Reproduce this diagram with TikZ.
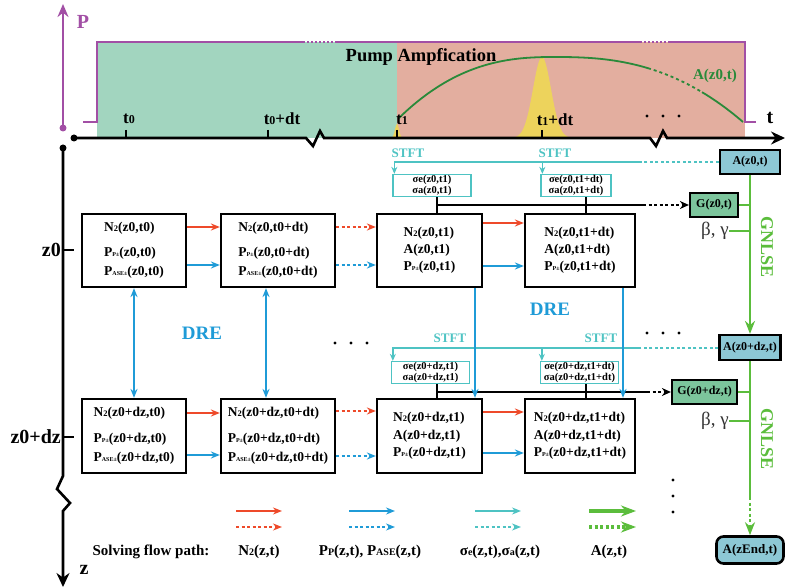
\documentclass[tikz,border=0pt]{standalone}
\usepackage{fontspec}
\setmainfont{Liberation Serif}
\usetikzlibrary{arrows.meta,calc}
\definecolor{cred}{HTML}{EE4A2A}
\definecolor{cblue}{HTML}{1F9BD7}
\definecolor{cteal}{HTML}{4EC3C3}
\definecolor{cgreen}{HTML}{5BBD3C}
\definecolor{cdgreen}{HTML}{2A8A3A}
\definecolor{cmag}{HTML}{A24FA5}
\definecolor{fgreen}{HTML}{A2D5BF}
\definecolor{fpink}{HTML}{E3AE9F}
\definecolor{fyel}{HTML}{EDD35C}
\definecolor{fablue}{HTML}{8DC8D5}
\definecolor{fgbox}{HTML}{7CC59C}
\newcommand\sbA[1]{{\fontsize{8.5}{8.5}\selectfont #1}}
\newcommand\sbB[1]{{\fontsize{6}{6}\selectfont #1}}
\newcommand\sbL[1]{{\fontsize{10}{10}\selectfont #1}}
\newcommand\sbT[1]{{\fontsize{12}{12}\selectfont #1}}
\begin{document}
\begin{tikzpicture}[x=1pt,y=-1pt,
  bx/.style={draw, line width=2.2pt, fill=white, inner sep=0pt, align=left, minimum height=73pt, font=\bfseries\fontsize{13.5}{17}\selectfont},
  sg/.style={draw=cteal, line width=1.3pt, fill=white, inner sep=0pt, align=center, minimum height=22pt, font=\bfseries\fontsize{10.5}{11}\selectfont},
  ab/.style={draw, line width=2.2pt, fill=fablue, inner sep=0pt, minimum height=24pt, minimum width=60pt, font=\bfseries\fontsize{12}{12}\selectfont},
  gb/.style={draw, line width=2.2pt, fill=fgbox, inner sep=0pt, minimum height=24pt, font=\bfseries\fontsize{12}{12}\selectfont},
  dts/.style={dash pattern=on 3pt off 2.5pt},
  arrtip/.style={-{Stealth[length=9pt,width=7pt]}},
  rl/.style={draw=cred, line width=1.8pt, arrtip},
  bl/.style={draw=cblue, line width=1.8pt, arrtip},
  tl/.style={draw=cteal, line width=1.5pt},
  kl/.style={draw=black, line width=1.8pt},
  gl/.style={draw=cgreen, line width=2.8pt},
  lbl/.style={font=\bfseries\fontsize{15}{15}\selectfont, inner sep=0pt},
  axl/.style={font=\bfseries\fontsize{20}{20}\selectfont, inner sep=0pt},
  tlab/.style={font=\bfseries\fontsize{17}{17}\selectfont, inner sep=0pt},
  bglab/.style={anchor=east, inner sep=0pt, font=\fontsize{19}{19}\selectfont, text=black!80},
]
\useasboundingbox (0,0) rectangle (785,588);

% ---------- top plot ----------
\fill[fgreen] (97,42) rectangle (397,138);
\fill[fpink] (397,42) rectangle (745,138);
\fill[fyel] plot[domain=506:578,samples=80] (\x,{138-81*exp(-((\x-542)^2)/162)}) -- cycle;
\fill[fyel] plot[domain=391:403,samples=20] (\x,{138-14*exp(-((\x-397)^2)/8)}) -- cycle;
\draw[cdgreen,line width=1.8pt] plot[domain=399:555,samples=60] (\x,{57+61*pow(abs(555-\x)/156+0.0001,2.5)});
\draw[cdgreen,line width=1.8pt] plot[domain=555:648,samples=40] (\x,{57+65*pow(abs(\x-555)/188+0.0001,2.5)});
\draw[cdgreen,line width=1.8pt,dash pattern=on 3pt off 3pt] plot[domain=648:702,samples=30] (\x,{57+65*pow(abs(\x-555)/188+0.0001,2.5)});
\draw[cdgreen,line width=1.8pt] plot[domain=702:743,samples=30] (\x,{57+65*pow(abs(\x-555)/188+0.0001,2.5)});

\draw[cmag,line width=2.2pt] (83,122) -- (97,122) -- (97,42) -- (303,42);
\draw[cmag,line width=2.2pt,dash pattern=on 2pt off 2pt] (303,42) -- (335,42);
\draw[cmag,line width=2.2pt] (335,42) -- (640,42);
\draw[cmag,line width=2.2pt,dash pattern=on 2pt off 2pt] (640,42) -- (670,42);
\draw[cmag,line width=2.2pt] (670,42) -- (745,42) -- (745,122) -- (756,122);

\node[font=\bfseries\fontsize{18.5}{18.5}\selectfont, inner sep=0pt] (pump) at (421,57) {Pump Ampfication};
\node[font=\bfseries\fontsize{15}{15}\selectfont, text=cdgreen, inner sep=0pt] (alab) at (715,76) {A(z0,t)};

% axes
\coordinate (pdot) at (63,128);
\coordinate (ptop) at (63,4);
\fill[cmag] (pdot) circle (3.5pt);
\draw[cmag,line width=2.5pt,-{Stealth[length=13pt,width=11pt]}] (pdot) -- (ptop);
\node[axl, text=cmag] (plab) at (83,22) {P};

\coordinate (tdot) at (74,138);
\coordinate (tend) at (785,138);
\fill (tdot) circle (3.5pt);
\draw[line width=2.6pt,-{Stealth[length=14pt,width=13pt]}] (tdot) -- (306,138) -- (313,146) -- (320,131) -- (324,138) -- (650,138) -- (656,146) -- (663,131) -- (667,138) -- (tend);
\node[axl] (tlb) at (770,118) {t};
\foreach \x in {126,268,397,542} \draw[line width=1.5pt] (\x,130) -- (\x,138);
\node[tlab] (lt0) at (129,119) {t\sbT{0}};
\node[tlab] (lt0d) at (282,119) {t\sbT{0}+dt};
\node[tlab] (lt1) at (402,120) {t\sbT{1}};
\node[tlab] (lt1d) at (555,120) {t\sbT{1}+dt};
\foreach \x in {647,663,679} \fill (\x,116) circle (1.6pt);

\coordinate (zdot) at (63,148);
\coordinate (zend) at (63,587);
\fill (zdot) circle (3.5pt);
\draw[line width=2.6pt,-{Stealth[length=14pt,width=13pt]}] (zdot) -- (63,476) -- (57,489) -- (70,503) -- (63,511) -- (zend);
\node[axl] (zlb) at (84,570) {z};
\draw[line width=2pt] (63,250) -- (74,250);
\draw[line width=2pt] (63,437) -- (74,437);
\node[axl, anchor=east] (z0l) at (61,250) {z0};
\node[axl, anchor=east] (z1l) at (61,437) {z0+dz};

% ---------- boxes ----------
\node[bx, minimum width=104pt] (b11) at (134,250.5) {N\sbA{2}(z0,t0)\\[8pt]P\sbB{P±}(z0,t0)\\[2pt]P\sbB{ASE±}(z0,t0)};
\node[bx, minimum width=114pt] (b12) at (278,250.5) {N\sbA{2}(z0,t0+dt)\\[8pt]P\sbB{P±}(z0,t0+dt)\\[2pt]P\sbB{ASE±}(z0,t0+dt)};
\node[bx, minimum width=105pt] (b13) at (429.5,250.5) {N\sbA{2}(z0,t1)\\A(z0,t1)\\P\sbB{P±}(z0,t1)};
\node[bx, minimum width=110pt] (b14) at (580,250.5) {N\sbA{2}(z0,t1+dt)\\A(z0,t1+dt)\\P\sbB{P±}(z0,t1+dt)};

\node[bx, minimum width=104pt, minimum height=74pt] (b21) at (134,436) {N\sbA{2}(z0+dz,t0)\\[9pt]P\sbB{P±}(z0+dz,t0)\\[2pt]P\sbB{ASE±}(z0+dz,t0)};
\node[bx, minimum width=114pt, minimum height=74pt] (b22) at (278,436) {N\sbA{2}(z0+dz,t0+dt)\\[9pt]P\sbB{P±}(z0+dz,t0+dt)\\[2pt]P\sbB{ASE±}(z0+dz,t0+dt)};
\node[bx, minimum width=105pt, minimum height=74pt] (b23) at (429.5,436) {N\sbA{2}(z0+dz,t1)\\[1pt]A(z0+dz,t1)\\P\sbB{P±}(z0+dz,t1)};
\node[bx, minimum width=110pt, minimum height=74pt] (b24) at (580,436) {N\sbA{2}(z0+dz,t1+dt)\\[1pt]A(z0+dz,t1+dt)\\P\sbB{P±}(z0+dz,t1+dt)};

\node[sg, minimum width=78pt] (s13) at (432,185.5) {σe(z0,t1)\\σa(z0,t1)};
\node[sg, minimum width=70pt] (s14) at (576,185.5) {σe(z0,t1+dt)\\σa(z0,t1+dt)};
\node[sg, minimum width=78pt] (s23) at (430.5,372.5) {σe(z0+dz,t1)\\σa(z0+dz,t1)};
\node[sg, minimum width=78pt] (s24) at (579.5,372.5) {σe(z0+dz,t1+dt)\\σa(z0+dz,t1+dt)};

\node[ab] (a1) at (750,162) {A(z0,t)};
\node[ab, minimum width=61pt, minimum height=25pt] (a2) at (750,347.5) {A(z0+dz,t)};
\node[ab, rounded corners=7pt, line width=2.6pt, minimum width=67pt, minimum height=27pt, font=\bfseries\fontsize{13}{13}\selectfont] (aend) at (750,550) {A(zEnd,t)};
\node[gb, minimum width=48pt] (g1) at (714,205) {G(z0,t)};
\node[gb, minimum width=65pt] (g2) at (704.5,392) {G(z0+dz,t)};

\node[bglab] (bg1) at (729,231) {β, γ};
\node[bglab] (bg2) at (729,421) {β, γ};

\node[rotate=-90, text=cgreen, font=\bfseries\fontsize{18}{18}\selectfont, inner sep=0pt] (gn1) at (767,247) {GNLSE};
\node[rotate=-90, text=cgreen, font=\bfseries\fontsize{18}{18}\selectfont, inner sep=0pt] (gn2) at (767,439) {GNLSE};

\node[text=cteal, font=\bfseries\fontsize{13}{13}\selectfont, inner sep=0pt] (stl1) at (408,153) {STFT};
\node[text=cteal, font=\bfseries\fontsize{13}{13}\selectfont, inner sep=0pt] (stl2) at (555,153) {STFT};
\node[text=cteal, font=\bfseries\fontsize{13}{13}\selectfont, inner sep=0pt] (stl3) at (450,338) {STFT};
\node[text=cteal, font=\bfseries\fontsize{13}{13}\selectfont, inner sep=0pt] (stl4) at (601,338) {STFT};

\node[text=cblue, font=\bfseries\fontsize{19}{19}\selectfont, inner sep=0pt] (dre1) at (202,333) {DRE};
\node[text=cblue, font=\bfseries\fontsize{19}{19}\selectfont, inner sep=0pt] (dre2) at (550,309) {DRE};

\foreach \x in {335,351,367} \fill (\x,343) circle (1.6pt);
\foreach \x in {647,663,679} \fill (\x,333) circle (1.6pt);
\foreach \y in {480,496,512} \fill (673,\y) circle (1.6pt);

% ---------- connectors row z0 ----------
\draw[rl] (b11.east |- 0,227) -- (b12.west |- 0,227);
\draw[bl] (b11.east |- 0,265) -- (b12.west |- 0,265);
\draw[rl,dts] (b12.east |- 0,227) -- (b13.west |- 0,227);
\draw[bl,dts] (b12.east |- 0,265) -- (b13.west |- 0,265);
\draw[rl] (b13.east |- 0,223) -- (b14.west |- 0,223);
\draw[bl] (b13.east |- 0,266) -- (b14.west |- 0,266);

% row z0+dz
\draw[rl] (b21.east |- 0,413) -- (b22.west |- 0,413);
\draw[bl] (b21.east |- 0,455) -- (b22.west |- 0,455);
\draw[rl,dts] (b22.east |- 0,411) -- (b23.west |- 0,411);
\draw[bl,dts] (b22.east |- 0,456) -- (b23.west |- 0,456);
\draw[rl] (b23.east |- 0,412) -- (b24.west |- 0,412);
\draw[bl] (b23.east |- 0,453) -- (b24.west |- 0,453);

% STFT lines
\coordinate (st1) at (640,162);
\coordinate (k13) at ($(s13.north west)+(2,0)$);
\coordinate (k14) at ($(s14.north west)+(2,0)$);
\draw[tl,dts] (a1.west) -- (st1);
\draw[tl,-{Stealth[length=7pt,width=6pt]}] (st1) -| (k13);
\draw[tl,-{Stealth[length=7pt,width=6pt]}] (k14 |- st1) -- (k14);
\coordinate (st2) at (640,348);
\coordinate (k23) at ($(s23.north west)+(2,0)$);
\coordinate (k24) at ($(s24.north west)+(2,0)$);
\draw[tl,dts] (a2.west |- st2) -- (st2);
\draw[tl,-{Stealth[length=7pt,width=6pt]}] (st2) -| (k23);
\draw[tl,-{Stealth[length=7pt,width=6pt]}] (k24 |- st2) -- (k24);

% black gain lines
\coordinate (h1a) at (437,205);
\coordinate (h1b) at (643,205);
\draw[kl] (s13.south -| h1a) -- (b13.north -| h1a);
\draw[kl] (s14.south -| 586,0) -- (b14.north -| 586,0);
\draw[kl] (h1a) -- (h1b);
\draw[kl,dts,-{Stealth[length=9pt,width=8pt]}] (h1b) -- (g1.west);
\coordinate (h2a) at (437,392);
\coordinate (h2b) at (647,392);
\draw[kl] (s23.south -| h2a) -- (b23.north -| h2a);
\draw[kl] (s24.south -| 586,0) -- (b24.north -| 586,0);
\draw[kl] (h2a) -- (h2b);
\draw[kl,dts,-{Stealth[length=9pt,width=8pt]}] (h2b) -- (g2.west);

% DRE arrows
\draw[draw=cblue,line width=1.8pt,{Stealth[length=9pt,width=7pt]}-{Stealth[length=9pt,width=7pt]}] (b11.south) -- (b21.north);
\draw[draw=cblue,line width=1.8pt,{Stealth[length=9pt,width=7pt]}-{Stealth[length=9pt,width=7pt]}] (b12.south -| 266,0) -- (b22.north -| 266,0);
\draw[bl] (b13.south -| 475,0) -- (b23.north -| 475,0);
\draw[bl] (b14.south -| 623,0) -- (b24.north -| 623,0);

% GNLSE green
\draw[gl,-{Stealth[length=13pt,width=10pt]}] (a1.south) -- (a2.north);
\coordinate (gd) at (750,497);
\draw[gl] (a2.south) -- (gd);
\draw[gl,dash pattern=on 3pt off 2.5pt,-{Stealth[length=13pt,width=10pt]}] (gd) -- (aend.north);
\draw[gl] (g1.east) -- (g1.east -| a1.south);
\draw[gl] (bg1.east) -- (bg1.east -| a1.south);
\draw[gl] (g2.east) -- (g2.east -| a2.south);
\draw[gl] (bg2.east) -- (bg2.east -| a2.south);

% ---------- legend ----------
\foreach \nm/\xa/\cc in {r/236/cred, b/349/cblue, t/475/cteal} {
  \coordinate (L\nm1) at (\xa,511);
  \coordinate (L\nm2) at (\xa+46,511);
  \coordinate (L\nm3) at (\xa,527);
  \coordinate (L\nm4) at (\xa+46,527);
  \draw[draw=\cc, line width=1.8pt, arrtip] (L\nm1) -- (L\nm2);
  \draw[draw=\cc, line width=1.8pt, arrtip, dts] (L\nm3) -- (L\nm4);
}
\coordinate (Lg1) at (589,511);
\coordinate (Lg2) at (636,511);
\coordinate (Lg3) at (589,527);
\coordinate (Lg4) at (636,527);
\draw[draw=cgreen, line width=3.2pt, -{Stealth[length=15pt,width=11pt]}] (Lg1) -- (Lg2);
\draw[draw=cgreen, line width=3.2pt, dash pattern=on 3pt off 2.5pt, -{Stealth[length=15pt,width=11pt]}] (Lg3) -- (Lg4);

\node[lbl] (lg0) at (151,552) {Solving flow path:};
\node[lbl] (lg1) at (259,552) {N\sbL{2}(z,t)};
\node[lbl] (lg2) at (370,552) {P\sbL{P}(z,t), P\sbL{ASE}(z,t)};
\node[lbl] (lg3) at (500,552) {σ\sbL{e}(z,t),σ\sbL{a}(z,t)};
\node[lbl] (lg4) at (609,552) {A(z,t)};
\end{tikzpicture}
\end{document}
